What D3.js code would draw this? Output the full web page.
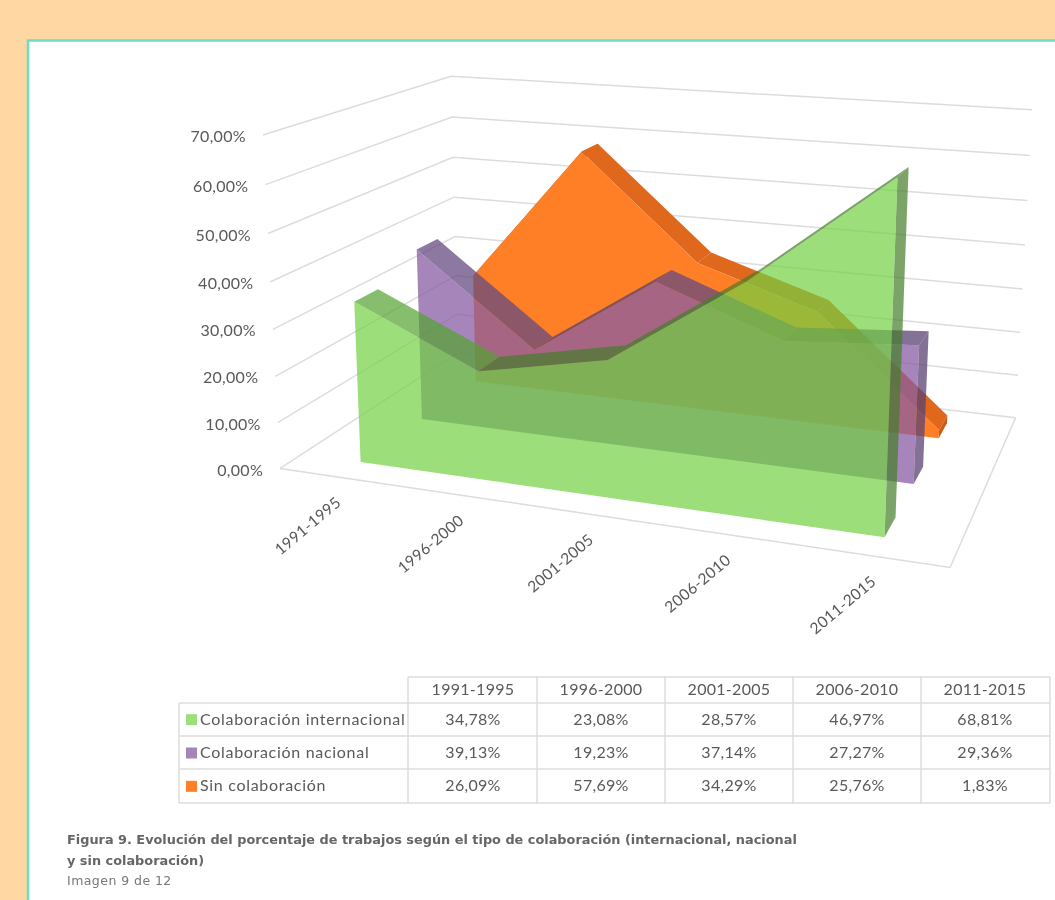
<!DOCTYPE html>
<html>
<head>
<meta charset="utf-8">
<script src="https://cdn.jsdelivr.net/npm/d3@7"></script>
<style>
  html, body { margin: 0; background: #fed7a2; overflow: hidden; }
  svg { display: block; filter: blur(0.35px); }
  text { font-family: Lato, sans-serif; fill: #595959; }
  .caption { font-family: "DejaVu Sans", sans-serif; fill: #666; }
</style>
</head>
<body>
<div id="chart"></div>
<script>
let width = 1055,
    height = 900;

const periods = ["1991-1995", "1996-2000", "2001-2005", "2006-2010", "2011-2015"];
const seriesNames = ["Colaboración internacional", "Colaboración nacional", "Sin colaboración"];
const internacional = [34.78, 23.08, 28.57, 46.97, 68.81];
const nacional = [39.13, 19.23, 37.14, 27.27, 29.36];
const sinColaboracion = [26.09, 57.69, 34.29, 25.76, 1.83];
const seriesValues = [internacional, nacional, sinColaboracion];
const yTicks = [0, 10, 20, 30, 40, 50, 60, 70];

const frontColors = ["#70d041", "#885ea3", "#ff7f27"];
const sideColors = ["#54a230", "#654b80", "#e0681c"];
const shadeColors = ["#457e29", "#5a4273", "#c95c18"];
const keyColors = ["#9bde7a", "#a686ba", "#ff7f27"];
const faceOpacity = [0.7, 0.75, 1];

const svg = d3.select("#chart")
  .append("svg")
  .attr("width", width)
  .attr("height", height);

// white panel with the teal border
svg.append("rect")
  .attr("x", 28)
  .attr("y", 40.5)
  .attr("width", 1100)
  .attr("height", 1000)
  .attr("fill", "#fff")
  .attr("stroke", "#66dfc3")
  .attr("stroke-width", 2.5);

// unit positions inside the 3d box
let x = d3.scalePoint().domain(periods).range([0, 1]).padding(0.5);
let z = d3.scaleBand().domain(seriesNames).range([0, 1]).paddingInner(0.64).paddingOuter(0.32);
let y = d3.scaleLinear().domain([0, 70]).range([0, 1]);

// the box corners on screen, used to fit the perspective: [u, w, h, px, py]
const boxCorners = [
  [0, 0, 0, 281, 468], [0, 1, 0, 457, 353], [1, 1, 0, 1016, 417], [1, 0, 0, 950, 568],
  [0, 0, 1, 262, 135], [0, 1, 1, 452, 76], [1, 1, 1, 1032, 110]
];

function fitCamera(corners) {
  let rows = [], rhs = [];
  for (let [u, w, h, px, py] of corners) {
    rows.push([u, w, h, 1, 0, 0, 0, 0, -u * px, -w * px, -h * px]);
    rhs.push(px);
    rows.push([0, 0, 0, 0, u, w, h, 1, -u * py, -w * py, -h * py]);
    rhs.push(py);
  }
  let n = 11;
  let m = d3.range(n).map(i => d3.range(n + 1).map(j =>
    d3.sum(rows, (r, k) => r[i] * (j < n ? r[j] : rhs[k]))));
  for (let i = 0; i < n; i++) {
    let p = d3.greatest(d3.range(i, n), k => Math.abs(m[k][i]));
    [m[i], m[p]] = [m[p], m[i]];
    for (let k = 0; k < n; k++) {
      if (k === i) continue;
      let f = m[k][i] / m[i][i];
      for (let j = i; j <= n; j++) m[k][j] -= f * m[i][j];
    }
  }
  return m.map((r, i) => r[n] / r[i]);
}

const cam = fitCamera(boxCorners);

function project(u, w, h) {
  let q = cam[8] * u + cam[9] * w + cam[10] * h + 1;
  return [
    (cam[0] * u + cam[1] * w + cam[2] * h + cam[3]) / q,
    (cam[4] * u + cam[5] * w + cam[6] * h + cam[7]) / q
  ];
}

let path = d3.line();
let closed = pts => path(pts) + "Z";

// walls and floor
let grid = svg.append("g")
  .attr("fill", "none")
  .attr("stroke", "#dcdcdc")
  .attr("stroke-width", 1.5);

for (let t of yTicks) {
  grid.append("path")
    .attr("d", path([project(0, 0, y(t)), project(0, 1, y(t)), project(1, 1, y(t))]));
}
grid.append("path")
  .attr("d", path([project(0, 0, 0), project(1, 0, 0), project(1, 1, 0)]));

// value axis labels
const tickFormat = d => d3.format(".2f")(d).replace(".", ",") + "%";

svg.append("g")
  .selectAll("text")
  .data(yTicks)
  .join("text")
  .attr("x", d => project(0, 0, y(d))[0] - 17)
  .attr("y", d => project(0, 0, y(d))[1] + 3)
  .attr("text-anchor", "end")
  .attr("dominant-baseline", "middle")
  .attr("font-size", 16)
  .attr("letter-spacing", 0.3)
  .text(tickFormat);

// period labels on the front edge
svg.append("g")
  .selectAll("text")
  .data(periods)
  .join("text")
  .attr("transform", d => {
    let [px, py] = project(x(d), 0, 0);
    return `translate(${px + 3},${py + 27}) rotate(-40)`;
  })
  .attr("text-anchor", "end")
  .attr("font-size", 15.5)
  .attr("letter-spacing", 0.3)
  .text(d => d);

// areas, from the back row to the front row
for (let i = seriesNames.length - 1; i >= 0; i--) {
  let values = seriesValues[i];
  let z0 = z(seriesNames[i]),
      z1 = z0 + z.bandwidth();
  let us = periods.map(d => x(d));
  let last = us.length - 1;
  let g = svg.append("g").attr("class", "series").attr("fill-opacity", faceOpacity[i]);

  // top strips, rising stretches show their shaded underside
  for (let k = 0; k < last; k++) {
    g.append("path")
      .attr("fill", values[k + 1] > values[k] ? shadeColors[i] : sideColors[i])
      .attr("d", closed([
        project(us[k], z0, y(values[k])),
        project(us[k + 1], z0, y(values[k + 1])),
        project(us[k + 1], z1, y(values[k + 1])),
        project(us[k], z1, y(values[k]))
      ]));
  }

  // right end
  g.append("path")
    .attr("fill", shadeColors[i])
    .attr("d", closed([
      project(us[last], z0, 0),
      project(us[last], z1, 0),
      project(us[last], z1, y(values[last])),
      project(us[last], z0, y(values[last]))
    ]));

  // front face
  let outline = us.map((u, k) => project(u, z0, y(values[k])));
  outline.push(project(us[last], z0, 0), project(us[0], z0, 0));
  g.append("path")
    .attr("fill", frontColors[i])
    .attr("d", closed(outline));
}

// data table below the chart
let colX = d3.scalePoint().domain(periods).range([473, 985]);
let rowY = d3.scaleBand().domain(seriesNames).range([703, 803]);
const tableLeft = 179,
      nameRight = 408,
      tableRight = 1050,
      headTop = 677;

let table = svg.append("g");
let lines = table.append("g").attr("stroke", "#dcdcdc").attr("stroke-width", 1.5).attr("fill", "none");

lines.append("path").attr("d", path([[nameRight, headTop], [tableRight, headTop]]));
for (let r of [703, 736, 769, 803]) {
  lines.append("path").attr("d", path([[tableLeft, r], [tableRight, r]]));
}
lines.append("path").attr("d", path([[tableLeft, 703], [tableLeft, 803]]));
for (let c of [408, 537, 665, 793, 921, 1050]) {
  lines.append("path").attr("d", path([[c, headTop], [c, 803]]));
}

table.append("g")
  .selectAll("text")
  .data(periods)
  .join("text")
  .attr("x", d => colX(d))
  .attr("y", 691)
  .attr("text-anchor", "middle")
  .attr("dominant-baseline", "middle")
  .attr("font-size", 16)
  .attr("letter-spacing", 0.3)
  .text(d => d);

seriesNames.forEach((name, i) => {
  let cy = rowY(name) + rowY.bandwidth() / 2;
  table.append("rect")
    .attr("x", 186)
    .attr("y", cy - 5.5)
    .attr("width", 11)
    .attr("height", 11)
    .attr("fill", keyColors[i]);
  table.append("text")
    .attr("x", 200)
    .attr("y", cy + 1)
    .attr("dominant-baseline", "middle")
    .attr("font-size", 16)
    .attr("letter-spacing", 0.7)
    .text(name);
  table.append("g")
    .selectAll("text")
    .data(seriesValues[i])
    .join("text")
    .attr("x", (d, k) => colX(periods[k]))
    .attr("y", cy + 1)
    .attr("text-anchor", "middle")
    .attr("dominant-baseline", "middle")
    .attr("font-size", 16)
    .attr("letter-spacing", 0.3)
    .text(tickFormat);
});

// caption
const captionLines = [
  "Figura 9. Evolución del porcentaje de trabajos según el tipo de colaboración (internacional, nacional",
  "y sin colaboración)"
];
svg.append("g")
  .selectAll("text")
  .data(captionLines)
  .join("text")
  .attr("class", "caption")
  .attr("x", 67)
  .attr("y", (d, i) => 844 + i * 20.5)
  .attr("font-size", 12.86)
  .attr("font-weight", "bold")
  .text(d => d);

svg.append("text")
  .attr("class", "caption")
  .attr("x", 67)
  .attr("y", 884.5)
  .attr("font-size", 12.5)
  .attr("letter-spacing", 0.45)
  .style("fill", "#777")
  .text("Imagen 9 de 12");
</script>
</body>
</html>
